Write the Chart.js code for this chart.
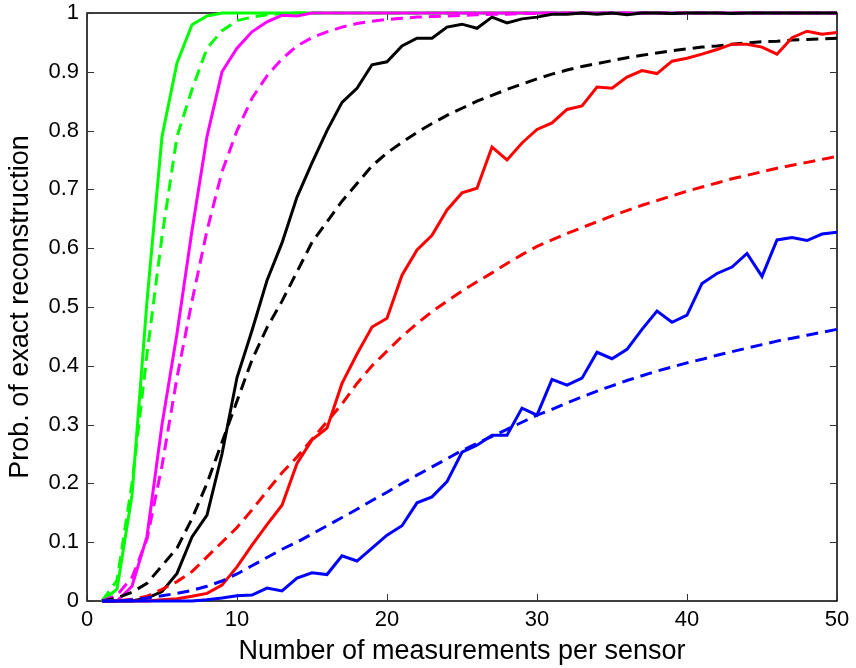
<!DOCTYPE html>
<html>
<head>
<meta charset="utf-8">
<script src="https://cdn.jsdelivr.net/npm/chart.js@4.4.1/dist/chart.umd.min.js"></script>
<style>
  html, body { margin: 0; padding: 0; background: #fff; }
  #wrap { width: 856px; height: 668px; position: relative; }
</style>
</head>
<body>
<div id="wrap"><canvas id="c" width="856" height="668"></canvas></div>
<script>
// Measurements per sensor (x values)
const measurements = Array.from({length: 50}, (_, i) => i + 1);

// Tick labels
const xTickValues = [0, 10, 20, 30, 40, 50];
const yTickValues = [0, 0.1, 0.2, 0.3, 0.4, 0.5, 0.6, 0.7, 0.8, 0.9, 1];

// Series (solid = empirical, dashed = predicted)
const greenSolid = [0, 0.02, 0.18, 0.51, 0.79, 0.915, 0.98, 0.995, 1, 1,
  1, 1, 1, 1, 1, 1, 1, 1, 1, 1, 1, 1, 1, 1, 1, 1, 1, 1, 1, 1,
  1, 1, 1, 1, 1, 1, 1, 1, 1, 1, 1, 1, 1, 1, 1, 1, 1, 1, 1, 1];
const greenDashed = [0, 0.035, 0.2, 0.42, 0.62, 0.79, 0.87, 0.94, 0.97, 0.987,
  0.993, 0.997, 0.999, 1, 1, 1, 1, 1, 1, 1, 1, 1, 1, 1, 1, 1, 1, 1, 1, 1,
  1, 1, 1, 1, 1, 1, 1, 1, 1, 1, 1, 1, 1, 1, 1, 1, 1, 1, 1, 1];
const magentaSolid = [0, 0, 0.025, 0.11, 0.3, 0.455, 0.63, 0.79, 0.9, 0.94,
  0.968, 0.985, 0.996, 0.995, 1, 1, 1, 1, 1, 1, 1, 1, 1, 1, 1, 1, 1, 1, 1, 1,
  1, 1, 1, 1, 1, 1, 1, 1, 1, 1, 1, 1, 1, 1, 1, 1, 1, 1, 1, 1];
const magentaDashed = [0, 0.01, 0.04, 0.105, 0.23, 0.38, 0.51, 0.63, 0.73, 0.8,
  0.855, 0.893, 0.922, 0.944, 0.958, 0.968, 0.976, 0.982, 0.986, 0.989,
  0.991, 0.993, 0.994, 0.995, 0.996, 0.997, 0.998, 0.998, 0.999, 0.999,
  1, 1, 1, 1, 1, 1, 1, 1, 1, 1, 1, 1, 1, 1, 1, 1, 1, 1, 1, 1];
const blackSolid = [0, 0, 0, 0.005, 0.016, 0.047, 0.109, 0.146, 0.25, 0.38,
  0.46, 0.545, 0.609, 0.687, 0.745, 0.8, 0.848, 0.872, 0.912, 0.917,
  0.944, 0.957, 0.957, 0.976, 0.981, 0.974, 0.993, 0.983, 0.99, 0.993,
  0.998, 0.998, 1, 0.998, 1, 0.997, 1, 1, 0.999, 1,
  1, 1, 0.999, 1, 1, 1, 1, 1, 1, 1];
const blackDashed = [0, 0.005, 0.015, 0.03, 0.06, 0.09, 0.14, 0.2, 0.27, 0.34,
  0.41, 0.465, 0.51, 0.56, 0.61, 0.645, 0.68, 0.71, 0.74, 0.762,
  0.78, 0.797, 0.812, 0.826, 0.838, 0.85, 0.86, 0.87, 0.879, 0.888,
  0.896, 0.903, 0.909, 0.914, 0.919, 0.924, 0.928, 0.932, 0.936, 0.939,
  0.942, 0.944, 0.947, 0.949, 0.951, 0.952, 0.954, 0.955, 0.956, 0.957];
const redSolid = [0, 0, 0, 0, 0.002, 0.004, 0.008, 0.013, 0.027, 0.058,
  0.095, 0.13, 0.163, 0.234, 0.274, 0.294, 0.37, 0.42, 0.466, 0.481,
  0.554, 0.597, 0.622, 0.665, 0.694, 0.702, 0.772, 0.75, 0.779, 0.802,
  0.813, 0.836, 0.842, 0.874, 0.872, 0.891, 0.902, 0.897, 0.918, 0.923,
  0.93, 0.938, 0.947, 0.947, 0.942, 0.93, 0.958, 0.969, 0.964, 0.967];
const redDashed = [0, 0, 0.003, 0.008, 0.02, 0.033, 0.05, 0.075, 0.1, 0.125,
  0.155, 0.187, 0.218, 0.245, 0.275, 0.305, 0.335, 0.37, 0.4, 0.425,
  0.45, 0.472, 0.492, 0.51, 0.527, 0.543, 0.558, 0.574, 0.589, 0.603,
  0.614, 0.625, 0.635, 0.645, 0.655, 0.664, 0.673, 0.681, 0.689, 0.697,
  0.704, 0.711, 0.718, 0.724, 0.73, 0.736, 0.741, 0.746, 0.751, 0.756];
const blueSolid = [0, 0, 0, 0, 0, 0, 0, 0.002, 0.005, 0.009,
  0.01, 0.022, 0.017, 0.039, 0.048, 0.045, 0.077, 0.068, 0.09, 0.112,
  0.128, 0.167, 0.177, 0.203, 0.253, 0.265, 0.282, 0.282, 0.328, 0.316,
  0.377, 0.367, 0.379, 0.423, 0.412, 0.428, 0.462, 0.493, 0.474, 0.486,
  0.54, 0.557, 0.568, 0.591, 0.552, 0.614, 0.618, 0.613, 0.624, 0.627];
const blueDashed = [0, 0, 0.002, 0.005, 0.009, 0.013, 0.018, 0.025, 0.034, 0.046,
  0.06, 0.074, 0.088, 0.1, 0.114, 0.128, 0.142, 0.156, 0.171, 0.185,
  0.2, 0.214, 0.228, 0.242, 0.256, 0.268, 0.28, 0.292, 0.304, 0.316,
  0.326, 0.337, 0.347, 0.357, 0.366, 0.375, 0.383, 0.391, 0.398, 0.405,
  0.411, 0.418, 0.424, 0.43, 0.436, 0.442, 0.447, 0.452, 0.457, 0.462];

const FONT = '"Liberation Sans", Arial, sans-serif';

function series(data, color, dashed) {
  return {
    data: data.map((v, i) => ({x: measurements[i], y: v})),
    borderColor: color,
    borderWidth: 3,
    borderDash: dashed ? [12, 7] : [],
    pointRadius: 0,
    tension: 0,
    fill: false,
    clip: 4
  };
}

const frame = {
  id: 'frame',
  beforeDatasetsDraw(chart) {
    const {ctx, chartArea: a, scales: {x, y}} = chart;
    ctx.save();
    ctx.strokeStyle = '#000';
    ctx.lineWidth = 1.5;
    ctx.strokeRect(a.left, a.top, a.right - a.left, a.bottom - a.top);
    ctx.lineWidth = 1;
    ctx.strokeStyle = '#333';
    const L = 7;
    ctx.beginPath();
    xTickValues.forEach(v => {
      const px = Math.round(x.getPixelForValue(v)) + 0.5;
      ctx.moveTo(px, a.bottom); ctx.lineTo(px, a.bottom - L);
      ctx.moveTo(px, a.top); ctx.lineTo(px, a.top + L);
    });
    yTickValues.forEach(v => {
      const py = Math.round(y.getPixelForValue(v)) + 0.5;
      ctx.moveTo(a.left, py); ctx.lineTo(a.left + L, py);
      ctx.moveTo(a.right, py); ctx.lineTo(a.right - L, py);
    });
    ctx.stroke();
    ctx.restore();
  }
};

new Chart(document.getElementById('c'), {
  type: 'line',
  data: {
    datasets: [
      series(blueDashed, '#0000ff', true),
      series(blueSolid, '#0000ff', false),
      series(redDashed, '#ff0000', true),
      series(redSolid, '#ff0000', false),
      series(blackDashed, '#000000', true),
      series(blackSolid, '#000000', false),
      series(magentaDashed, '#ff00ff', true),
      series(magentaSolid, '#ff00ff', false),
      series(greenDashed, '#00ff00', true),
      series(greenSolid, '#00ff00', false)
    ]
  },
  plugins: [frame],
  options: {
    responsive: false,
    animation: false,
    layout: { padding: { top: 13, right: 19, left: 0, bottom: 0 } },
    plugins: { legend: { display: false }, tooltip: { enabled: false } },
    scales: {
      x: {
        type: 'linear', min: 0, max: 50,
        afterBuildTicks(s) { s.ticks = xTickValues.map(v => ({value: v})); },
        afterFit(s) { s.height = 67; s.paddingLeft = 0; s.paddingRight = 0; },
        grid: { display: false, drawTicks: false },
        border: { display: false },
        ticks: { color: '#000', padding: 6, maxRotation: 0,
          font: { family: FONT, size: 22 } },
        title: { display: true, text: 'Number of measurements per sensor', color: '#000',
          padding: { top: 0, bottom: 0 }, font: { family: FONT, size: 27 } }
      },
      y: {
        type: 'linear', min: 0, max: 1,
        afterBuildTicks(s) { s.ticks = yTickValues.map(v => ({value: v})); },
        afterFit(s) { s.width = 87; s.paddingTop = 0; s.paddingBottom = 0; },
        grid: { display: false, drawTicks: false },
        border: { display: false },
        ticks: { color: '#000', padding: 8,
          font: { family: FONT, size: 22 },
          callback: v => String(v) },
        title: { display: true, text: 'Prob. of exact reconstruction', color: '#000',
          padding: { top: 4, bottom: 4 }, font: { family: FONT, size: 27 } }
      }
    }
  }
});
</script>
</body>
</html>
